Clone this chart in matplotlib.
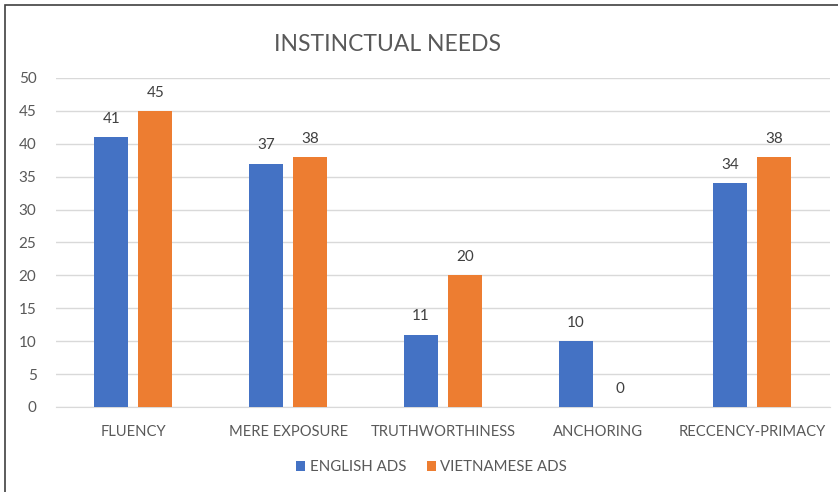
import matplotlib.pyplot as plt
import matplotlib.patches as mpatches
import numpy as np

categories = ['FLUENCY', 'MERE EXPOSURE', 'TRUTHWORTHINESS', 'ANCHORING', 'RECCENCY-PRIMACY']
english_ads = [41, 37, 11, 10, 34]
vietnamese_ads = [45, 38, 20, 0, 38]
series_names = ['ENGLISH ADS', 'VIETNAMESE ADS']
y_ticks = [0, 5, 10, 15, 20, 25, 30, 35, 40, 45, 50]

BLUE = '#4472C4'
ORANGE = '#ED7D31'
TEXT = '#595959'
GRID = '#D9D9D9'

plt.rcParams['font.family'] = ['Lato', 'DejaVu Sans']

fig = plt.figure(figsize=(8.38, 4.92), dpi=100)
ax = fig.add_axes([0.0668, 0.1728, 0.9232, 0.6687])

x = np.arange(len(categories))
width = 0.22
offset = 0.142
b1 = ax.bar(x - offset, english_ads, width, color=BLUE, label=series_names[0], zorder=3)
b2 = ax.bar(x + offset, vietnamese_ads, width, color=ORANGE, label=series_names[1], zorder=3)

for bars in (b1, b2):
    for rect in bars:
        h = rect.get_height()
        ax.annotate(f'{h:g}', (rect.get_x() + rect.get_width() / 2, h),
                    xytext=(0, 8), textcoords='offset points',
                    ha='center', va='bottom', fontsize=11, color='#404040')

ax.set_xlim(-0.5, len(categories) - 0.5)
ax.set_ylim(0, 50)
ax.set_yticks(y_ticks)
ax.set_xticks(x)
ax.set_xticklabels(categories)
ax.tick_params(axis='both', length=0, labelsize=11, colors=TEXT)
ax.tick_params(axis='x', pad=13, labelsize=10.6)
ax.tick_params(axis='y', pad=14)
ax.grid(axis='y', color=GRID, linewidth=1, zorder=0)
for s in ('top', 'right', 'left'):
    ax.spines[s].set_visible(False)
ax.spines['bottom'].set_color(GRID)

fig.text(0.463, 0.91, 'INSTINCTUAL NEEDS', ha='center', va='center',
         fontsize=16.5, color=TEXT)

fig.legend(handles=[b1, b2], loc='center', bbox_to_anchor=(0.515, 0.05), ncol=2,
           frameon=False, fontsize=10.8, labelcolor=TEXT, handlelength=0.6,
           handleheight=0.6, handletextpad=0.3, columnspacing=1.4)

# chart frame
fig.patches.append(mpatches.Rectangle((5 / 838, -0.1), 1.2, 1 - 5 / 492 + 0.1,
                                      transform=fig.transFigure, fill=False,
                                      edgecolor='#404040', linewidth=1.2))

fig.savefig('out.png', dpi=100, facecolor='white')
